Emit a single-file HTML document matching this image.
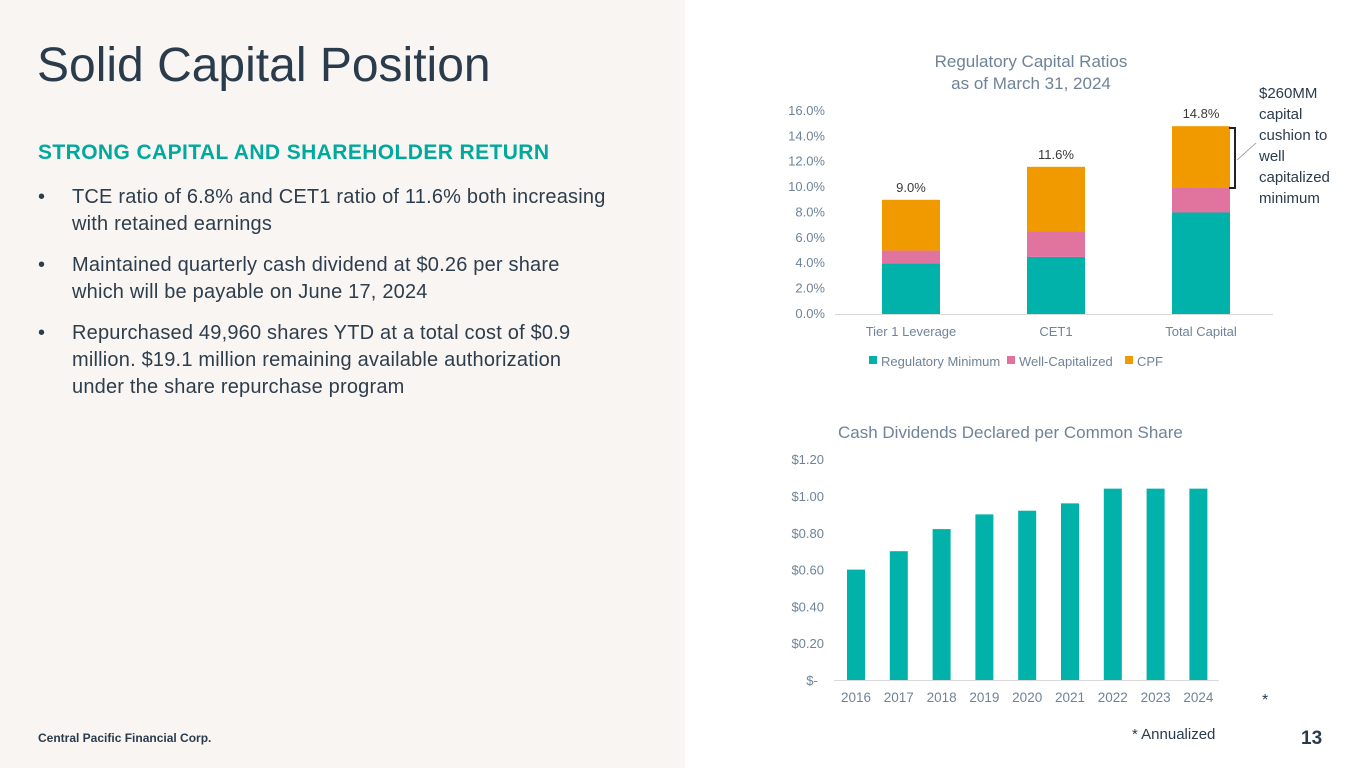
<!DOCTYPE html>
<html><head><meta charset="utf-8"><style>
body{margin:0;width:1365px;height:768px;position:relative;background:#fff;font-family:"Liberation Sans",sans-serif;overflow:hidden}
.left{position:absolute;left:0;top:0;width:685px;height:768px;background:#f8f5f2}
.t{position:absolute;white-space:nowrap}
ul{position:absolute;left:38px;top:184px;margin:0;padding:0;list-style:none;width:572px;color:#2e3d4c;font-size:20px;line-height:27px;letter-spacing:0.2px}
li{position:relative;padding-left:34px;margin-bottom:14px}
li:before{content:"•";position:absolute;left:0}
svg text{font-family:"Liberation Sans",sans-serif}
</style></head><body>
<div class="left"></div>
<div class="t" style="left:37px;top:38px;font-size:48px;color:#2a3b4c">Solid Capital Position</div>
<div class="t" style="left:38px;top:141px;font-size:21px;font-weight:bold;color:#00a99d;letter-spacing:0.4px">STRONG CAPITAL AND SHAREHOLDER RETURN</div>
<ul>
<li>TCE ratio of 6.8% and CET1 ratio of 11.6% both increasing with retained earnings</li>
<li>Maintained quarterly cash dividend at $0.26 per share which will be payable on June 17, 2024</li>
<li>Repurchased 49,960 shares YTD at a total cost of $0.9 million. $19.1 million remaining available authorization under the share repurchase program</li>
</ul>
<div class="t" style="left:38px;top:731px;font-size:12px;font-weight:bold;color:#2a3b4c">Central Pacific Financial Corp.</div>
<div class="t" style="left:1301px;top:728px;font-size:19px;font-weight:bold;color:#2a3b4c">13</div>
<div class="t" style="left:1132px;top:726px;font-size:15px;color:#2a3b4c">* Annualized</div>
<svg id="c" width="1365" height="768" style="position:absolute;left:0;top:0"></svg>
<script>
const capCats=["Tier 1 Leverage","CET1","Total Capital"];
const regMin=[4.0,4.5,8.0];
const wellCap=[1.0,2.0,2.0];
const cpf=[4.0,5.1,4.8];
const capTotals=["9.0%","11.6%","14.8%"];
const capTicks=[0,2,4,6,8,10,12,14,16];
const divYears=["2016","2017","2018","2019","2020","2021","2022","2023","2024"];
const divVals=[0.60,0.70,0.82,0.90,0.92,0.96,1.04,1.04,1.04];
const divTicks=[0,0.2,0.4,0.6,0.8,1.0,1.2];
const divTickLabels=["$-","$0.20","$0.40","$0.60","$0.80","$1.00","$1.20"];

const svg=document.getElementById('c');const NS="http://www.w3.org/2000/svg";
function mk(tag,attrs,txt){const e=document.createElementNS(NS,tag);for(const k in attrs)e.setAttribute(k,attrs[k]);if(txt!==undefined)e.textContent=txt;svg.appendChild(e);return e;}
const grey="#6f8398";
const y1=v=>314-v*12.69;const x1=i=>911+i*145;
let e=mk('text',{x:1031,y:67,'font-size':17,fill:grey,'text-anchor':'middle'},'Regulatory Capital Ratios');
e=mk('text',{x:1031,y:89,'font-size':17,fill:grey,'text-anchor':'middle'},'as of March 31, 2024');
capTicks.forEach(t=>{const el=mk('text',{x:825,y:y1(t)+4,'font-size':13,fill:grey,'text-anchor':'end'},t.toFixed(1)+'%');});
e=mk('line',{x1:835,x2:1273,y1:314.5,y2:314.5,stroke:'#d9d9d9'});
const cols=["#00b2a9","#e0749f","#f09a00"];const names=["regmin","wellcap","cpf"];
capCats.forEach((c,i)=>{let base=0;[regMin[i],wellCap[i],cpf[i]].forEach((v,s)=>{const r=mk('rect',{x:x1(i)-29,y:y1(base+v),width:58,height:y1(base)-y1(base+v),fill:cols[s]});base+=v;});
 const l=mk('text',{x:x1(i),y:y1(base)-8,'font-size':13,fill:'#3a3a3a','text-anchor':'middle'},capTotals[i]);
 const xl=mk('text',{x:x1(i),y:336,'font-size':13,fill:grey,'text-anchor':'middle'},c);});
const leg=[["Regulatory Minimum",869],["Well-Capitalized",1007],["CPF",1125]];
leg.forEach((g,s)=>{const r=mk('rect',{x:g[1],y:356,width:8,height:8,fill:cols[s]});const t=mk('text',{x:g[1]+12,y:366,'font-size':13,fill:grey},g[0]);});
e=mk('path',{d:'M1229 128 H1235 V188 H1229',stroke:'#222',fill:'none','stroke-width':2});
e=mk('line',{x1:1237,y1:160,x2:1256,y2:143,stroke:'#888','stroke-width':0.7});
["$260MM","capital","cushion to","well","capitalized","minimum"].forEach((s,k)=>{const t=mk('text',{x:1259,y:98+k*21,'font-size':15,fill:'#2a3b4c'},s);});
const y2=v=>680-v*184;const x2=i=>856+i*42.8;
e=mk('text',{x:838,y:438,'font-size':17,fill:grey},'Cash Dividends Declared per Common Share');
divTicks.forEach((t,k)=>{const el=mk('text',{x:k==0?812:824,y:y2(t)+5,'font-size':13,fill:grey,'text-anchor':k==0?'middle':'end'},divTickLabels[k]);});
e=mk('line',{x1:834,x2:1219,y1:680.5,y2:680.5,stroke:'#d9d9d9'});
divYears.forEach((yv,i)=>{const r=mk('rect',{x:x2(i)-9,y:y2(divVals[i]),width:18,height:680-y2(divVals[i]),fill:'#00b2a9'});
 const t=mk('text',{x:x2(i),y:702,'font-size':13.5,fill:grey,'text-anchor':'middle'},yv);});
e=mk('text',{x:1262,y:705,'font-size':16,fill:'#2a3b4c'},'*');
</script>
</body></html>
